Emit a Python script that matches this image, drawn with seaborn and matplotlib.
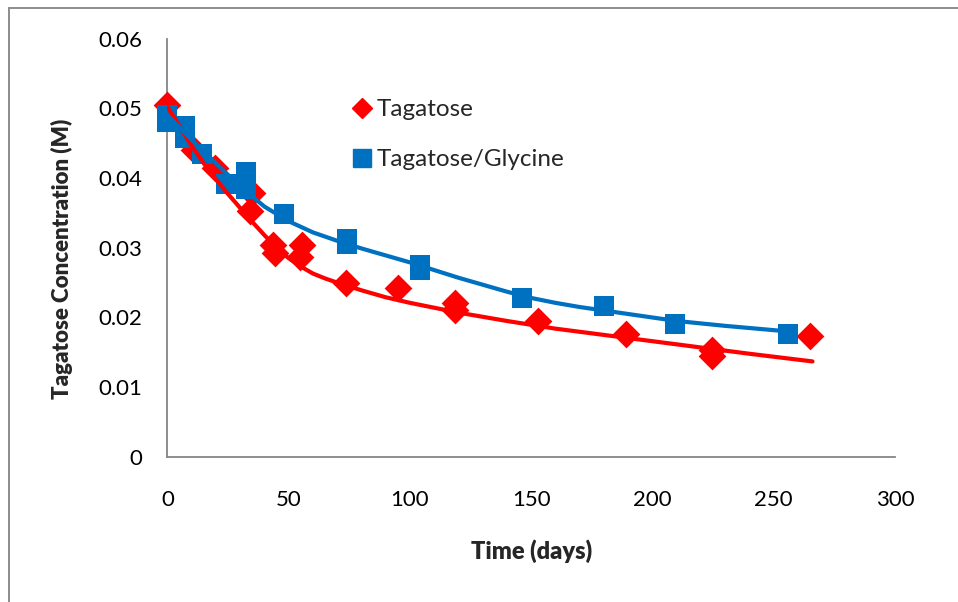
import matplotlib
matplotlib.use("Agg")
import matplotlib.pyplot as plt
from matplotlib.lines import Line2D
import pandas as pd
import seaborn as sns

# Measured tagatose concentration, tagatose alone
tag_days = [0, 11, 19.5, 34, 34.7, 43.6, 44.3, 55.3, 54.6, 73.5, 95.2,
            118.4, 118.4, 152.8, 189.2, 224.4, 224.4, 265]
tag_conc = [0.0505, 0.0440, 0.0414, 0.0352, 0.0378, 0.0304, 0.0292, 0.0304,
            0.0287, 0.0249, 0.0243, 0.0221, 0.0211, 0.0195, 0.0176, 0.0153,
            0.0145, 0.0174]

# Measured tagatose concentration, tagatose with glycine
gly_days = [0, 0, 7.2, 7.2, 14.1, 24, 32.3, 32.3, 48.1, 73.9, 73.9, 104.1,
            104.1, 146, 180.2, 209.3, 256]
gly_conc = [0.0490, 0.0480, 0.0475, 0.0458, 0.0434, 0.0391, 0.0409, 0.0384,
            0.0348, 0.0312, 0.0305, 0.0275, 0.0268, 0.0228, 0.0217, 0.0191,
            0.0176]

# Fitted decay curves
tag_fit_days = [0, 5, 10, 15, 20, 25, 30, 35, 40, 45, 50, 55, 60, 65, 70,
                80, 90, 100, 120, 140, 160, 180, 200, 220, 240, 266]
tag_fit_conc = [0.0502, 0.0474, 0.0446, 0.0421, 0.0398, 0.0377, 0.0357,
                0.0337, 0.0318, 0.0300, 0.0285, 0.0273, 0.0263, 0.0256,
                0.0250, 0.0239, 0.0229, 0.0221, 0.0207, 0.0195, 0.0184,
                0.0175, 0.0166, 0.0157, 0.0148, 0.0137]

gly_fit_days = [0, 10, 20, 30, 40, 50, 60, 70, 80, 90, 100, 110, 120, 130,
                140, 150, 160, 170, 180, 190, 200, 210, 230, 256]
gly_fit_conc = [0.0490, 0.0455, 0.0421, 0.0388, 0.0359, 0.0338, 0.0322,
                0.0310, 0.0299, 0.0289, 0.0279, 0.0268, 0.0257, 0.0247,
                0.0237, 0.0228, 0.0221, 0.0215, 0.0210, 0.0205, 0.0200,
                0.0195, 0.0188, 0.0180]

x_ticks = [0, 50, 100, 150, 200, 250, 300]
y_ticks = [0, 0.01, 0.02, 0.03, 0.04, 0.05, 0.06]
y_tick_labels = ["0", "0.01", "0.02", "0.03", "0.04", "0.05", "0.06"]

RED = "#FF0000"
BLUE = "#0070C0"
GREY = "#868686"

sns.set_style("white")
plt.rcParams["font.family"] = ["Lato", "DejaVu Sans"]

fig = plt.figure(figsize=(9.58, 6.02), dpi=100)
ax = fig.add_axes([0.1748, 0.2409, 0.7594, 0.6951])

tag_df = pd.DataFrame({"days": tag_days, "conc": tag_conc})
gly_df = pd.DataFrame({"days": gly_days, "conc": gly_conc})
tag_fit = pd.DataFrame({"days": tag_fit_days, "conc": tag_fit_conc})
gly_fit = pd.DataFrame({"days": gly_fit_days, "conc": gly_fit_conc})

sns.scatterplot(data=tag_df, x="days", y="conc", marker="D", s=200,
                color=RED, edgecolor=RED, linewidth=0, ax=ax, zorder=3,
                clip_on=False)
sns.scatterplot(data=gly_df, x="days", y="conc", marker="s", s=215,
                color=BLUE, edgecolor=BLUE, linewidth=0, ax=ax, zorder=4,
                clip_on=False)
sns.lineplot(data=tag_fit, x="days", y="conc", color=RED, linewidth=3.0,
             ax=ax, zorder=5, sort=True)
sns.lineplot(data=gly_fit, x="days", y="conc", color=BLUE, linewidth=3.0,
             ax=ax, zorder=6, sort=True)

ax.set_xlim(0, 300)
ax.set_ylim(0, 0.06)
ax.set_xticks(x_ticks)
ax.set_xticklabels([str(t) for t in x_ticks])
ax.set_yticks(y_ticks)
ax.set_yticklabels(y_tick_labels)

for side in ("top", "right"):
    ax.spines[side].set_visible(False)
for side in ("left", "bottom"):
    ax.spines[side].set_color(GREY)
    ax.spines[side].set_linewidth(1.3)

ax.tick_params(axis="both", direction="out", length=6, width=1.1,
               color=GREY, labelsize=16, labelcolor="black")
ax.tick_params(axis="y", pad=12)
ax.tick_params(axis="x", pad=18)

ax.set_xlabel("Time (days)", fontsize=17, fontweight="heavy")
ax.set_ylabel("Tagatose Concentration (M)", fontsize=16,
              fontweight="heavy")
ax.xaxis.set_label_coords(0.5, -0.197)
ax.yaxis.set_label_coords(-0.13, 0.474)

handles = [
    Line2D([], [], linestyle="none", marker="D", markersize=10,
           markerfacecolor=RED, markeredgecolor=RED, label="Tagatose"),
    Line2D([], [], linestyle="none", marker="s", markersize=13,
           markerfacecolor=BLUE, markeredgecolor=BLUE,
           label="Tagatose/Glycine"),
]
ax.legend(handles=handles, loc="upper left", bbox_to_anchor=(0.241, 0.878),
          frameon=False, fontsize=17.5, handlelength=0.8, handletextpad=0.2,
          labelspacing=1.2, borderaxespad=0)

# Chart-area border on the left and top edges
fig.add_artist(Line2D([0.0099, 0.0099], [0.0, 0.9875],
                      transform=fig.transFigure, color="#8C8C8C",
                      linewidth=1.4))
fig.add_artist(Line2D([0.0099, 1.0], [0.9875, 0.9875],
                      transform=fig.transFigure, color="#8C8C8C",
                      linewidth=1.4))

fig.savefig("out.png", dpi=100)
